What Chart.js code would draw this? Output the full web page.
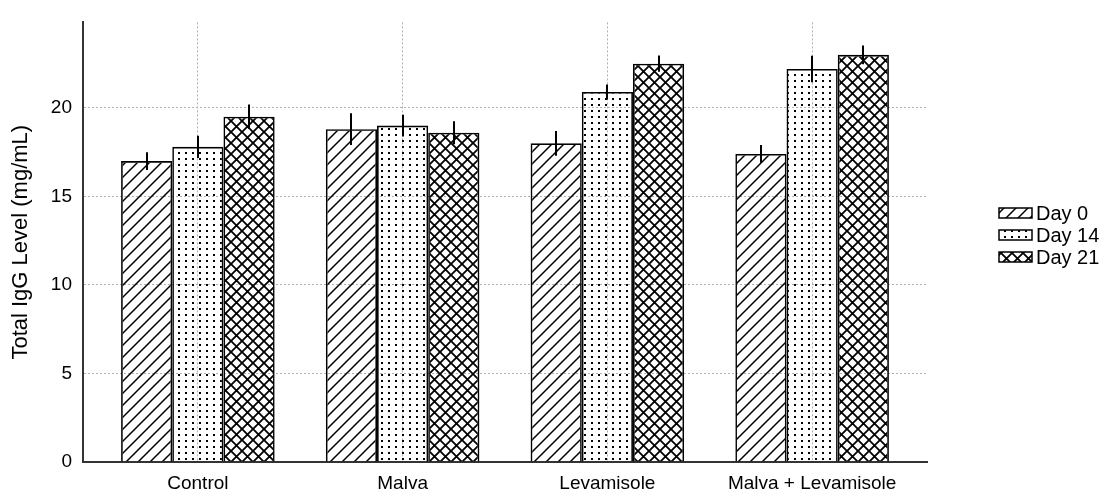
<!DOCTYPE html>
<html>
<head>
<meta charset="utf-8">
<script src="https://cdn.jsdelivr.net/npm/chart.js@4"></script>
<style>
  html, body { margin: 0; padding: 0; background: #fff; }
  canvas { display: block; }
</style>
</head>
<body>
<canvas id="c" width="1110" height="495"></canvas>
<script>
const categories = ["Control", "Malva", "Levamisole", "Malva + Levamisole"];
const seriesNames = ["Day 0", "Day 14", "Day 21"];
const day0 = [17.0, 18.8, 18.0, 17.4];
const day14 = [17.8, 19.0, 20.9, 22.2];
const day21 = [19.5, 18.6, 22.5, 23.0];
const err0 = [0.5, 0.9, 0.7, 0.5];
const err14 = [0.63, 0.62, 0.42, 0.75];
const err21 = [0.69, 0.65, 0.46, 0.53];
const yTicks = [0, 5, 10, 15, 20];

const FONT = "'Liberation Sans', Arial, sans-serif";

function makePattern(kind) {
  const c = document.createElement('canvas');
  const ctx = c.getContext('2d');
  if (kind === 'hatch') {
    c.width = 12; c.height = 12;
    ctx.strokeStyle = '#000'; ctx.lineWidth = 1.5;
    ctx.beginPath();
    ctx.moveTo(-3, 15); ctx.lineTo(15, -3);
    ctx.moveTo(-3, 3); ctx.lineTo(3, -3);
    ctx.moveTo(9, 15); ctx.lineTo(15, 9);
    ctx.stroke();
  } else if (kind === 'dots') {
    c.width = 7; c.height = 6;
    ctx.fillStyle = '#000';
    ctx.fillRect(3, 2, 2, 2);
  } else {
    c.width = 11; c.height = 11;
    ctx.strokeStyle = '#000'; ctx.lineWidth = 1.8;
    ctx.beginPath();
    ctx.moveTo(-2, 13); ctx.lineTo(13, -2);
    ctx.moveTo(-2, -2); ctx.lineTo(13, 13);
    ctx.stroke();
  }
  return document.createElement('canvas').getContext('2d').createPattern(c, 'repeat');
}
const patterns = [makePattern('hatch'), makePattern('dots'), makePattern('cross')];
const values = [day0, day14, day21];
const errors = [err0, err14, err21];

const errorBars = {
  id: 'errorBars',
  afterDatasetsDraw(chart) {
    const ctx = chart.ctx;
    const y = chart.scales.y;
    ctx.save();
    ctx.strokeStyle = '#000';
    ctx.lineWidth = 2;
    chart.data.datasets.forEach((ds, di) => {
      const meta = chart.getDatasetMeta(di);
      meta.data.forEach((bar, i) => {
        const v = values[di][i], e = errors[di][i];
        const x = Math.round(bar.x);
        ctx.beginPath();
        ctx.moveTo(x, y.getPixelForValue(v + e));
        ctx.lineTo(x, y.getPixelForValue(v - e));
        ctx.stroke();
      });
    });
    ctx.restore();
  }
};

const customLegend = {
  id: 'customLegend',
  afterDraw(chart) {
    const ctx = chart.ctx;
    ctx.save();
    seriesNames.forEach((name, i) => {
      const cy = 213 + i * 22;
      ctx.fillStyle = '#fff';
      ctx.fillRect(999, cy - 5, 33, 10);
      ctx.fillStyle = patterns[i];
      ctx.fillRect(999, cy - 5, 33, 10);
      ctx.strokeStyle = '#000';
      ctx.lineWidth = 1.5;
      ctx.strokeRect(999, cy - 5, 33, 10);
      ctx.fillStyle = '#000';
      ctx.font = '20px ' + FONT;
      ctx.textBaseline = 'middle';
      ctx.textAlign = 'left';
      ctx.fillText(name, 1036, cy + 1);
    });
    ctx.restore();
  }
};

new Chart(document.getElementById('c'), {
  type: 'bar',
  data: {
    datasets: seriesNames.map((name, di) => ({
      label: name,
      data: values[di].map((v, i) => ({ x: i, y: v })),
      backgroundColor: patterns[di],
      borderColor: '#000',
      borderWidth: 1.6,
      categoryPercentage: 0.75,
      barPercentage: 1.0
    }))
  },
  options: {
    responsive: false,
    animation: false,
    layout: { padding: { left: 0, top: 15, right: 183, bottom: 0 } },
    plugins: { legend: { display: false }, tooltip: { enabled: false } },
    scales: {
      x: {
        type: 'linear',
        bounds: 'data',
        offset: false,
        min: -0.561,
        max: 3.561,
        afterBuildTicks(s) { s.ticks = categories.map((c, i) => ({ value: i })); },
        afterFit(s) { s.height = 33; },
        ticks: {
          includeBounds: false,
          callback: (v) => categories[v],
          color: '#000',
          font: { family: FONT, size: 19 },
          padding: 10,
          maxRotation: 0,
          autoSkip: false
        },
        grid: { offset: false, color: '#b0b0b0', lineWidth: 1, drawTicks: false, tickLength: 0 },
        border: { color: '#333', width: 2, dash: [2, 2] }
      },
      y: {
        min: 0,
        max: 24.83,
        afterBuildTicks(s) { s.ticks = yTicks.map(v => ({ value: v })); },
        afterFit(s) { s.width = 83; },
        ticks: {
          includeBounds: false,
          color: '#000',
          font: { family: FONT, size: 19 },
          padding: 11
        },
        grid: {
          color: (ctx) => ctx.tick && ctx.tick.value === 0 ? 'rgba(0,0,0,0)' : '#b0b0b0',
          lineWidth: 1,
          drawTicks: false,
          tickLength: 0
        },
        border: { color: '#333', width: 2, dash: [2, 2] },
        title: {
          display: true,
          text: 'Total IgG Level (mg/mL)',
          color: '#000',
          font: { family: FONT, size: 22 },
          padding: { top: 8, bottom: 0 }
        }
      }
    }
  },
  plugins: [errorBars, customLegend]
});
</script>
</body>
</html>
